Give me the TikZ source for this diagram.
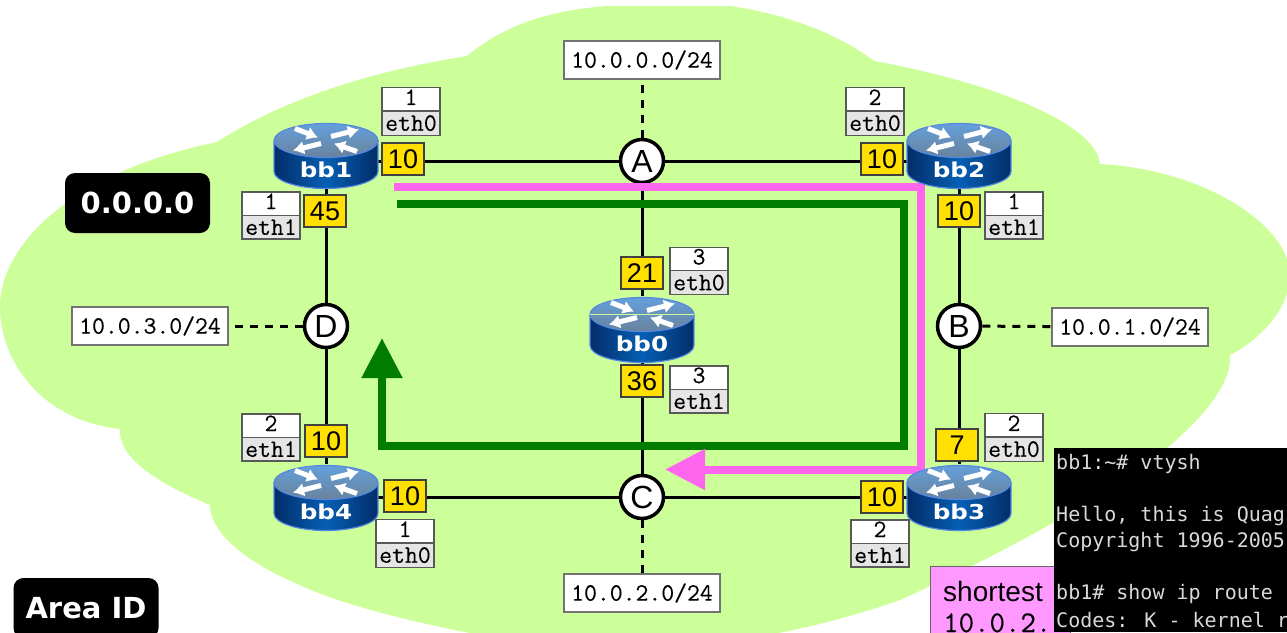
\documentclass[tikz,border=0pt]{standalone}
\usepackage{fontspec}
\setmainfont{Liberation Sans}
\newfontfamily\labelfont[FakeBold=0.3]{Latin Modern Mono}
\newfontfamily\termfont{DejaVu Sans Mono}
\newfontfamily\boldfont{DejaVu Sans Bold}
\newfontfamily\routerfont[FakeStretch=1.2]{DejaVu Sans Bold}
\usetikzlibrary{arrows.meta,shapes.multipart}

\definecolor{cloudgreen}{RGB}{204,255,153}
\definecolor{costyellow}{RGB}{255,224,0}
\definecolor{pathpink}{RGB}{255,102,238}
\definecolor{boxpink}{RGB}{255,153,255}
\definecolor{pathgreen}{RGB}{0,125,0}
\definecolor{routerdark}{RGB}{3,45,105}
\definecolor{routermid}{RGB}{5,95,180}
\definecolor{routerline}{RGB}{85,135,225}
\definecolor{routertop}{RGB}{100,160,220}
\definecolor{routerlow}{RGB}{105,130,155}

\tikzset{
    link/.style={line width=3pt},
    stub/.style={line width=3pt, dash pattern=on 8pt off 7pt},
    routerbox/.style={minimum width=104pt, minimum height=66pt, inner sep=0pt},
    routertext/.style={inner sep=0pt, text=white, font=\routerfont\fontsize{20.5}{21}\selectfont},
    cost/.style={draw=black!75, fill=costyellow, line width=1.2pt, minimum width=42pt, minimum height=32pt, inner sep=0pt, font=\fontsize{27}{27}\selectfont},
    hub/.style={circle, draw, fill=white, line width=3.5pt, minimum size=43pt, inner sep=0pt, font=\fontsize{32}{32}\selectfont},
    subnet/.style={draw=black!55, fill=white, line width=1.2pt, minimum width=156pt, minimum height=38pt, inner sep=0pt, font=\labelfont\fontsize{25}{25}\selectfont},
    iface/.style={rectangle split, rectangle split parts=2, rectangle split part fill={white,black!10}, draw=black!65, line width=1.2pt, minimum width=58pt, inner xsep=0pt, inner ysep=3.5pt, text height=13pt, text depth=2pt, align=center, font=\labelfont\fontsize{25}{25}\selectfont},
    area/.style={fill=black, rounded corners=10pt, text=white, minimum width=145pt, minimum height=60pt, inner sep=0pt, font=\boldfont\fontsize{29}{29}\selectfont},
    route/.style={line width=8pt, -{Triangle[length=40pt,width=39pt]}},
    term/.style={anchor=west, inner sep=0pt, text=black!15, font=\termfont\fontsize{20}{20}\selectfont},
    flow/.style={white, line width=5pt, -{Latex[length=11pt,width=14pt]}},
}

% drawing of a router over its node
\newcommand{\routerart}[2]{
    \begin{scope}[shift={(#1)}]
        \path[left color=routerdark, right color=routerdark, middle color=routermid] (-52,-15) -- (-52,16) arc[start angle=180, end angle=360, x radius=52pt, y radius=17pt] -- (52,-15) -- cycle;
        \draw[routerline, line width=1.2pt] (-52,-15) -- (-52,16) arc[start angle=180, end angle=360, x radius=52pt, y radius=17pt] -- (52,-15);
        \draw[routerline, line width=1.2pt, top color=routertop, bottom color=routerlow] (0,-15) ellipse[x radius=52pt, y radius=17pt];
        \draw[flow] (-31,-27) -- (-8,-18);
        \draw[flow] (5,-19) -- (33,-26);
        \draw[flow] (-5,-12) -- (-33,-5);
        \draw[flow] (31,-4) -- (8,-12);
    \end{scope}
    \node[routertext] (#1label) at ([yshift=-14pt]#1) {#2};
}

\begin{document}
\begin{tikzpicture}[x=1pt, y=-1pt]
    \useasboundingbox (0,0) rectangle (1287,632);
    \clip (0,0) rectangle (1287,632);

    % cloud
    \fill[cloudgreen] (217,142) .. controls (290,95) and (380,70) .. (467,56)
        .. controls (510,20) and (560,10) .. (606,6) -- (731,6)
        .. controls (790,15) and (840,35) .. (874,61)
        .. controls (980,80) and (1095,120) .. (1100,164)
        .. controls (1210,170) and (1295,230) .. (1290,280)
        .. controls (1287,310) and (1260,340) .. (1230,355)
        .. controls (1232,385) and (1200,420) .. (1167,448)
        .. controls (1110,495) and (1000,555) .. (900,600)
        .. controls (800,635) and (700,650) .. (600,650)
        .. controls (500,645) and (350,610) .. (300,585)
        .. controls (240,560) and (210,530) .. (210,505)
        .. controls (150,480) and (118,455) .. (120,429)
        .. controls (40,420) and (0,360) .. (0,307)
        .. controls (0,240) and (80,170) .. (217,142) -- cycle;

    \node[hub] (A) at (642,161) {A};
    \node[hub] (B) at (959,326) {B};
    \node[hub] (C) at (642,497) {C};
    \node[hub] (D) at (326,326) {D};

    \node[subnet] (netA) at (642,60) {10.0.0.0/24};
    \node[subnet] (netB) at (1130,327) {10.0.1.0/24};
    \node[subnet] (netC) at (642,593) {10.0.2.0/24};
    \node[subnet] (netD) at (150,326) {10.0.3.0/24};

    \node[routerbox] (bb1) at (326,155.5) {};
    \node[routerbox] (bb2) at (959,155.5) {};
    \node[routerbox] (bb0) at (642,329.5) {};
    \node[routerbox] (bb3) at (959,497.5) {};
    \node[routerbox] (bb4) at (326,497.5) {};

    % links
    \draw[link] (bb1 |- A) -- (A);
    \draw[link] (A) -- (A -| bb2);
    \draw[link] (A) -- (bb0) -- (C);
    \draw[link] (bb1) -- (D) -- (bb4);
    \draw[link] (bb2) -- (B) -- (bb3);
    \draw[link] (bb4 |- C) -- (C);
    \draw[link] (C) -- (bb3 |- C);
    \draw[stub] (A) -- (netA);
    \draw[stub] (B) -- (netB);
    \draw[stub] (C) -- (netC);
    \draw[stub] (D) -- (netD);

    % shortest paths
    \coordinate (pinkstart) at (394,187);
    \coordinate (pinkend) at (665,469.5);
    \coordinate (greenstart) at (397,204);
    \coordinate (greenend) at (382,338);
    \draw[route, pathgreen] (greenstart) -- (904,204) -- (904,446) -- (382,446) -- (greenend);
    \draw[route, pathpink] (pinkstart) -- (921,187) -- (921,469.5) -- (pinkend);

    \routerart{bb1}{bb1}
    \routerart{bb2}{bb2}
    \routerart{bb0}{bb0}
    \routerart{bb3}{bb3}
    \routerart{bb4}{bb4}
    \draw[cloudgreen, line width=0.8pt] (590,314.5) -- (694,314.5);

    % costs
    \node[cost] (c1) at (403,159) {10};
    \node[cost] (c2) at (325,211) {45};
    \node[cost] (c3) at (882,159) {10};
    \node[cost] (c4) at (959,211) {10};
    \node[cost] (c5) at (642,273) {21};
    \node[cost] (c6) at (642,381) {36};
    \node[cost] (c7) at (326,441) {10};
    \node[cost] (c8) at (957,445) {7};
    \node[cost] (c9) at (405,496) {10};
    \node[cost] (c10) at (882,497) {10};

    % interfaces
    \node[iface] (i1) at (411,111.5) {1\nodepart{two}eth0};
    \node[iface] (i2) at (271,215.5) {1\nodepart{two}eth1};
    \node[iface] (i3) at (875,111.5) {2\nodepart{two}eth0};
    \node[iface] (i4) at (1014,215.5) {1\nodepart{two}eth1};
    \node[iface] (i5) at (699,271) {3\nodepart{two}eth0};
    \node[iface] (i6) at (699,389.5) {3\nodepart{two}eth1};
    \node[iface] (i7) at (271,437.5) {2\nodepart{two}eth1};
    \node[iface] (i8) at (1014,437.5) {2\nodepart{two}eth0};
    \node[iface] (i9) at (405,543.5) {1\nodepart{two}eth0};
    \node[iface] (i10) at (880,543.5) {2\nodepart{two}eth1};

    \node[area] (areaval) at (137.5,203) {0.0.0.0};
    \node[area] (arealabel) at (86,608) {Area ID};

    % route note behind the terminal
    \draw[black!60, fill=boxpink, line width=1pt] (930,566) rectangle (1070,650);
    \node[anchor=base west, inner sep=0pt, font=\fontsize{28}{28}\selectfont] (note1) at (943,601) {shortest};
    \node[anchor=base west, inner sep=0pt, font=\labelfont\fontsize{30}{30}\selectfont] (note2) at (943,632) {10.0.2.};

    \fill[black] (1054,448) rectangle (1287,632);
    \node[term] (t1) at (1056,464) {bb1:\textasciitilde\# vtysh};
    \node[term] (t2) at (1056,516) {Hello, this is Quag};
    \node[term] (t3) at (1056,542) {Copyright 1996-2005};
    \node[term] (t4) at (1056,594) {bb1\# show ip route};
    \node[term] (t5) at (1056,620) {Codes: K - kernel r};
\end{tikzpicture}
\end{document}
